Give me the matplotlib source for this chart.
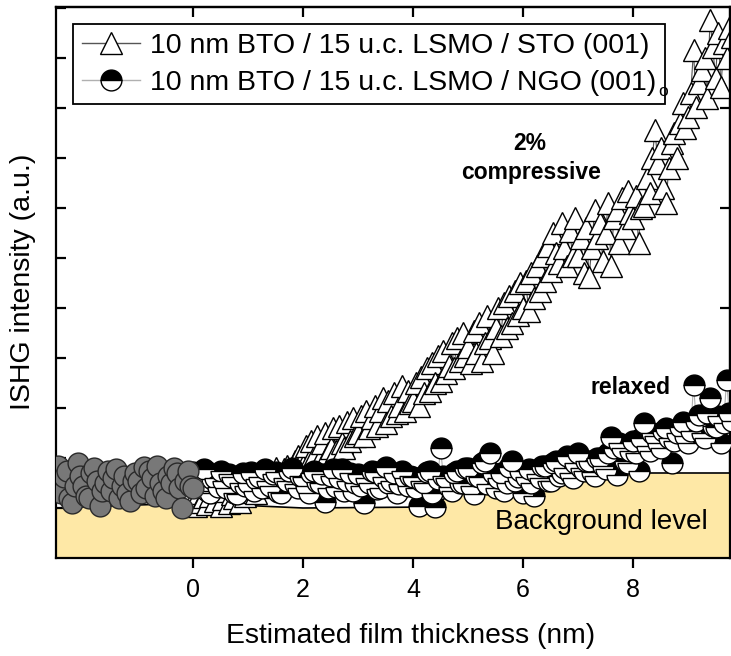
import matplotlib
matplotlib.use("Agg")
import matplotlib.pyplot as plt
from matplotlib.lines import Line2D

plt.rcParams['font.family'] = ['Liberation Sans', 'DejaVu Sans']

# ---------------- data ----------------
# gray circles (substrate, before growth)
sub_x = [-2.5, -2.45, -2.4, -2.35, -2.3, -2.25, -2.2, -2.15, -2.1, -2.05,
         -2.0, -1.95, -1.9, -1.85, -1.8, -1.75, -1.7, -1.65, -1.6, -1.55,
         -1.5, -1.45, -1.4, -1.35, -1.3, -1.25, -1.2, -1.15, -1.1, -1.05,
         -1.0, -0.95, -0.9, -0.85, -0.8, -0.75, -0.7, -0.65, -0.6, -0.55,
         -0.5, -0.45, -0.4, -0.35, -0.3, -0.25, -0.2, -0.15, -0.1, -0.05, 0.0]
sub_y = [1.55, 1.85, 1.3, 1.62, 1.75, 1.2, 1.1, 1.45, 1.9, 1.65,
         1.45, 1.25, 1.2, 1.7, 1.8, 1.55, 1.05, 1.35, 1.5, 1.75,
         1.35, 1.6, 1.78, 1.2, 1.45, 1.65, 1.3, 1.15, 1.55, 1.7,
         1.55, 1.3, 1.82, 1.4, 1.75, 1.6, 1.25, 1.85, 1.5, 1.35,
         1.2, 1.65, 1.5, 1.8, 1.7, 1.4, 1.0, 1.55, 1.75, 1.45, 1.4]

# growth thickness grid (nm)
grow_x = [0.0, 0.05, 0.1, 0.15, 0.2, 0.25, 0.3, 0.35, 0.4, 0.45, 0.5, 0.55, 0.6, 0.65, 0.7, 0.75, 0.8, 0.85, 0.9, 0.95,
          1.0, 1.05, 1.1, 1.15, 1.2, 1.25, 1.3, 1.35, 1.4, 1.45, 1.5, 1.55, 1.6, 1.65, 1.7, 1.75, 1.8, 1.85, 1.9, 1.95,
          2.0, 2.05, 2.1, 2.15, 2.2, 2.25, 2.3, 2.35, 2.4, 2.45, 2.5, 2.55, 2.6, 2.65, 2.7, 2.75, 2.8, 2.85, 2.9, 2.95,
          3.0, 3.05, 3.1, 3.15, 3.2, 3.25, 3.3, 3.35, 3.4, 3.45, 3.5, 3.55, 3.6, 3.65, 3.7, 3.75, 3.8, 3.85, 3.9, 3.95,
          4.0, 4.05, 4.1, 4.15, 4.2, 4.25, 4.3, 4.35, 4.4, 4.45, 4.5, 4.55, 4.6, 4.65, 4.7, 4.75, 4.8, 4.85, 4.9, 4.95,
          5.0, 5.05, 5.1, 5.15, 5.2, 5.25, 5.3, 5.35, 5.4, 5.45, 5.5, 5.55, 5.6, 5.65, 5.7, 5.75, 5.8, 5.85, 5.9, 5.95,
          6.0, 6.05, 6.1, 6.15, 6.2, 6.25, 6.3, 6.35, 6.4, 6.45, 6.5, 6.55, 6.6, 6.65, 6.7, 6.75, 6.8, 6.85, 6.9, 6.95,
          7.0, 7.05, 7.1, 7.15, 7.2, 7.25, 7.3, 7.35, 7.4, 7.45, 7.5, 7.55, 7.6, 7.65, 7.7, 7.75, 7.8, 7.85, 7.9, 7.95,
          8.0, 8.05, 8.1, 8.15, 8.2, 8.25, 8.3, 8.35, 8.4, 8.45, 8.5, 8.55, 8.6, 8.65, 8.7, 8.75, 8.8, 8.85, 8.9, 8.95,
          9.0, 9.05, 9.1, 9.15, 9.2, 9.25, 9.3, 9.35, 9.4, 9.45, 9.5, 9.55, 9.6, 9.65, 9.7, 9.75, 9.8]

# triangles: 10 nm BTO / 15 u.c. LSMO / STO (001)
sto_x = grow_x
sto_y = [1.17, 1.05, 1.3, 1.12, 1.22, 1.08, 1.25, 1.7, 1.15, 1.32, 1.05, 1.18, 1.35, 1.1, 1.28, 1.2, 1.4, 1.12, 1.3, 1.25,
         1.45, 1.32, 1.55, 1.3, 1.48, 1.6, 1.75, 1.5, 1.62, 1.42, 1.8, 1.65, 1.55, 1.78, 1.85, 1.7, 1.72, 1.95, 2.05, 1.88,
         1.85, 2.25, 1.95, 2.35, 2.05, 2.45, 1.98, 2.3, 2.5, 2.1, 2.2, 2.6, 2.15, 2.65, 2.3, 2.2, 2.72, 2.35, 2.8, 2.45,
         2.5, 2.85, 2.45, 2.95, 2.6, 2.8, 3.05, 2.65, 2.95, 3.2, 2.7, 3.15, 2.85, 3.3, 2.9, 3.05, 3.45, 2.95, 3.35, 3.1,
         3.15, 3.5, 3.05, 3.62, 3.3, 3.8, 3.35, 3.9, 3.5, 4.05, 3.55, 4.15, 3.7, 3.85, 4.3, 3.8, 4.4, 3.95, 4.5, 4.05,
         4.22, 3.9, 4.55, 4.1, 4.7, 3.95, 4.3, 4.85, 4.4, 4.1, 4.6, 5.0, 4.45, 5.1, 4.6, 5.25, 4.7, 5.35, 4.86, 5.5,
         5.0, 5.55, 4.95, 5.7, 5.2, 5.85, 5.35, 6.05, 5.55, 6.25, 5.75, 6.5, 6.1, 5.9, 6.7, 6.2, 5.85, 6.55, 6.05, 6.8,
         6.05, 6.4, 5.7, 6.6, 5.62, 6.2, 6.96, 6.4, 6.7, 5.95, 6.5, 7.1, 5.85, 6.8, 6.96, 6.3, 7.2, 6.6, 7.35, 6.9,
         6.8, 7.25, 6.3, 7.0, 7.05, 7.6, 7.3, 8.0, 8.56, 7.9, 8.2, 7.4, 7.1, 7.8, 8.3, 8.5, 8.0, 8.7, 9.1, 8.6,
         8.82, 9.3, 10.16, 9.02, 9.5, 9.76, 10.0, 9.2, 10.76, 10.22, 9.6, 10.5, 9.42, 10.3, 10.0, 10.6, 10.42]

# half-filled circles: 10 nm BTO / 15 u.c. LSMO / NGO (001)
ngo_x = grow_x
ngo_y = [1.72, 1.5, 1.45, 1.65, 1.78, 1.35, 1.3, 1.58, 1.6, 1.42, 1.75, 1.55, 1.4, 1.68, 1.62, 1.3, 1.28, 1.5, 1.7, 1.45,
         1.5, 1.72, 1.35, 1.58, 1.62, 1.4, 1.78, 1.55, 1.45, 1.68, 1.72, 1.32, 1.3, 1.6, 1.55, 1.75, 1.8, 1.48, 1.4, 1.65,
         1.62, 1.45, 1.3, 1.7, 1.75, 1.52, 1.5, 1.68, 1.12, 1.4, 1.65, 1.78, 1.42, 1.6, 1.78, 1.35, 1.55, 1.7, 1.35, 1.5,
         1.68, 1.45, 1.1, 1.6, 1.5, 1.75, 1.72, 1.38, 1.4, 1.62, 1.82, 1.5, 1.55, 1.7, 1.3, 1.48, 1.75, 1.6, 1.45, 1.65,
         1.62, 1.4, 1.05, 1.55, 1.5, 1.72, 1.75, 1.3, 1.02, 1.58, 2.2, 1.65, 1.6, 1.42, 1.35, 1.7, 1.75, 1.5, 1.5, 1.8,
         1.8, 1.45, 1.28, 1.65, 1.62, 1.9, 1.95, 1.48, 2.1, 1.7, 1.4, 1.6, 1.7, 1.35, 1.5, 1.82, 1.95, 1.55, 1.62, 1.75,
         1.3, 1.62, 1.78, 1.5, 1.25, 1.68, 1.6, 1.85, 1.85, 1.55, 1.55, 1.9, 1.95, 1.65, 1.7, 1.8, 2.05, 1.7, 1.6, 1.9,
         2.1, 1.8, 1.75, 1.95, 1.95, 1.72, 1.65, 2.0, 2.0, 1.85, 1.78, 2.1, 2.42, 2.2, 1.66, 2.3, 2.2, 1.95, 1.9, 2.15,
         2.35, 2.1, 1.75, 2.4, 2.7, 2.25, 2.15, 2.5, 2.45, 2.3, 2.2, 2.55, 2.6, 2.4, 1.9, 2.35, 2.5, 2.62, 2.72, 2.45,
         2.3, 2.55, 3.46, 2.75, 2.86, 2.5, 2.4, 2.9, 3.2, 2.65, 2.62, 2.85, 2.3, 2.7, 3.56, 2.9, 2.75]

# background level (top of shaded region)
bg_x = [-2.5, 0.0, 2.0, 4.3, 5.0, 6.0, 7.3, 9.9]
bg_y = [1.0, 1.1, 1.0, 1.02, 1.45, 1.6, 1.7, 1.7]

xticks = [0, 2, 4, 6, 8]
yticks_left = [1, 2, 3, 4, 5, 6, 7, 8, 9, 10, 11]
yticks_right = [1, 3, 5, 7, 9]

# ---------------- figure ----------------
W, H = 731, 656
fig = plt.figure(figsize=(W / 100, H / 100), dpi=100)
L, R, T, B = 56, 730, 7, 558
ax = fig.add_axes([L / W, 1 - B / H, (R - L) / W, (B - T) / H])

x0 = (L - 193) / 55.0
x1 = (R - 193) / 55.0
ax.set_xlim(x0, x1)
ax.set_ylim(0, (B - T) / 50.0)

ax.fill_between(bg_x, 0, bg_y, color='#FEE8A6', zorder=0.5, linewidth=0)
ax.plot(bg_x, bg_y, color='black', lw=1.2, zorder=0.6)

ax.plot(sto_x, sto_y, '-', color='#555555', lw=0.8, marker='^', ms=16,
        mfc='white', mec='black', mew=1.0, zorder=2)
ax.plot(ngo_x, ngo_y, '-', color='#b0b0b0', lw=0.8, marker='o', ms=15,
        fillstyle='top', mfc='black', mfcalt='white', mec='black', mew=1.0, zorder=3)
ax.plot(sub_x, sub_y, '-', color='#555555', lw=0.8, marker='o', ms=15,
        mfc='#787878', mec='#2a2a2a', mew=1.0, zorder=4)

for s in ax.spines.values():
    s.set_linewidth(1.6)

ax.set_xticks(xticks)
ax.set_yticks(yticks_left)
ax.tick_params(axis='x', direction='out', length=7, width=1.6, labelsize=18, pad=7.5,
               top=False)
ax.tick_params(axis='y', direction='in', length=7, width=1.6, labelleft=False,
               right=False)

secx = ax.secondary_xaxis('top')
secx.set_xticks(xticks)
secx.tick_params(direction='in', length=7, width=1.6, labeltop=False)
secx.spines['top'].set_linewidth(1.6)
secy = ax.secondary_yaxis('right')
secy.set_yticks(yticks_right)
secy.tick_params(direction='in', length=7, width=1.6, labelright=False)
secy.spines['right'].set_linewidth(1.6)

ax.set_xlabel('Estimated film thickness (nm)', fontsize=20.3)
ax.xaxis.set_label_coords((411 - L) / (R - L), -(636 - B) / (B - T), transform=ax.transAxes)
ax.xaxis.label.set_va('center')
ax.set_ylabel('ISHG intensity (a.u.)', fontsize=20.5)
ax.yaxis.set_label_coords(-(L - 23) / (R - L), (B - 282) / (B - T), transform=ax.transAxes)
ax.yaxis.label.set_va('center')

# legend
h1 = Line2D([], [], color='#555555', lw=1, marker='^', ms=16, mfc='white', mec='black', mew=1.0)
h2 = Line2D([], [], color='#b0b0b0', lw=1, marker='o', ms=15, fillstyle='top',
            mfc='black', mfcalt='white', mec='black', mew=1.0)
leg = ax.legend([h1, h2],
                ['10 nm BTO / 15 u.c. LSMO / STO (001)',
                 '10 nm BTO / 15 u.c. LSMO / NGO (001)'],
                loc='upper left', bbox_to_anchor=(73 / W, 1 - 24 / H),
                bbox_transform=fig.transFigure, borderaxespad=0,
                fontsize=20.5, frameon=True, fancybox=False, framealpha=1,
                edgecolor='black', handlelength=2.05, handletextpad=0.35,
                borderpad=0.3, labelspacing=0.4)
leg.get_frame().set_linewidth(1.3)
leg.set_zorder(10)

fig.text(663 / W, 1 - 92 / H, 'o', fontsize=12.5, ha='center', va='center')

fig.text(530 / W, 1 - 143 / H, '2%', fontsize=16.5, fontweight='bold', ha='center', va='center')
fig.text(531 / W, 1 - 172 / H, 'compressive', fontsize=16.5, fontweight='bold', ha='center', va='center')
fig.text(630 / W, 1 - 388 / H, 'relaxed', fontsize=16.5, fontweight='bold', ha='center', va='center')
fig.text(601 / W, 1 - 522 / H, 'Background level', fontsize=20, ha='center', va='center')

fig.savefig('out.png', dpi=100)
